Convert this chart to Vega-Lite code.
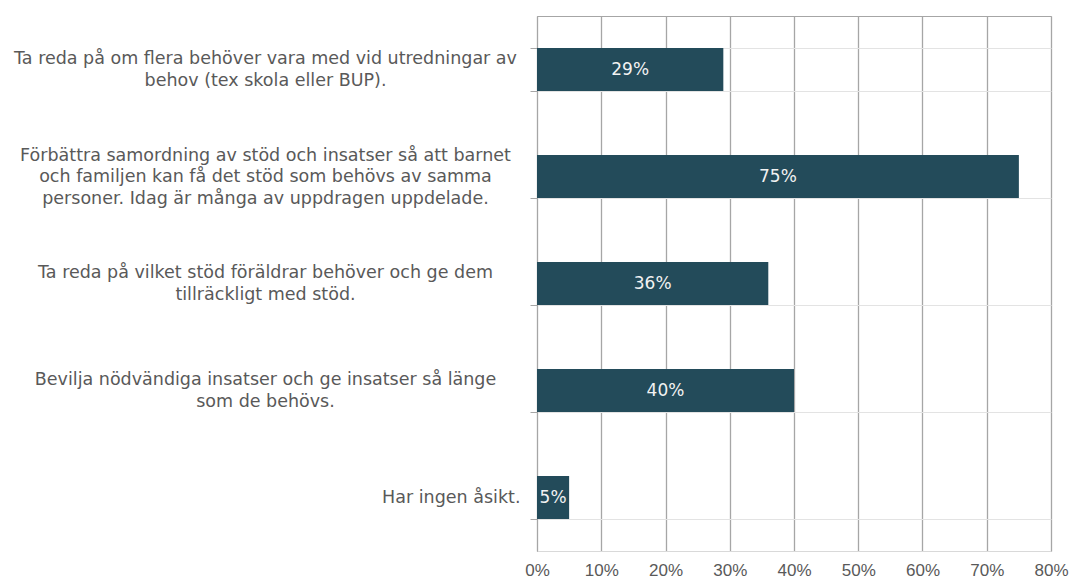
{
  "$schema": "https://vega.github.io/schema/vega-lite/v6.json",
  "autosize": "none",
  "width": 514,
  "height": 535,
  "padding": {"left": 537, "top": 16, "right": 22, "bottom": 29},
  "background": "white",
  "config": {
    "font": "Liberation Sans",
    "view": {"stroke": "#a6a6a6", "strokeWidth": 1}
  },
  "data": {
    "values": [
      {"cat": "Ta reda på om flera behöver vara med vid utredningar av\nbehov (tex skola eller BUP).", "value": 0.29},
      {"cat": "Förbättra samordning av stöd och insatser så att barnet\noch familjen kan få det stöd som behövs av samma\npersoner. Idag är många av uppdragen uppdelade.", "value": 0.75},
      {"cat": "Ta reda på vilket stöd föräldrar behöver och ge dem\ntillräckligt med stöd.", "value": 0.36},
      {"cat": "Bevilja nödvändiga insatser och ge insatser så länge\nsom de behövs.", "value": 0.40},
      {"cat": "Har ingen åsikt.", "value": 0.05}
    ]
  },
  "encoding": {
    "y": {
      "field": "cat",
      "type": "nominal",
      "sort": null,
      "scale": {"paddingInner": 0.6, "paddingOuter": 0.3},
      "axis": {
        "title": null,
        "labelExpr": "split(datum.label, '\\n')",
        "labelFont": "DejaVu Sans",
        "labelFontSize": 17.5,
        "labelColor": "#595959",
        "labelLineHeight": 21.5,
        "labelAlign": {"condition": {"test": "datum.value == 'Har ingen åsikt.'", "value": "right"}, "value": "center"},
        "labelPadding": {"condition": {"test": "datum.value == 'Har ingen åsikt.'", "value": 10}, "value": 265},
        "labelOffset": {"condition": [
          {"test": "length(split(datum.value, '\\n')) == 3", "value": -21.5},
          {"test": "length(split(datum.value, '\\n')) == 2", "value": -10.75}
        ], "value": 0},
        "labelLimit": 0,
        "tickBand": "extent",
        "tickSize": 7,
        "tickColor": "#a6a6a6",
        "grid": true,
        "gridColor": "#e3e3e3",
        "domainColor": "#a6a6a6"
      }
    }
  },
  "layer": [
    {
      "mark": {"type": "bar", "color": "#234b5a"},
      "encoding": {
        "x": {
          "field": "value",
          "type": "quantitative",
          "scale": {"domain": [0, 0.8], "nice": false},
          "axis": {
            "title": null,
            "format": ".0%",
            "values": [0, 0.1, 0.2, 0.3, 0.4, 0.5, 0.6, 0.7, 0.8],
            "labelFontSize": 17,
            "labelColor": "#595959",
            "labelFlush": false,
            "ticks": false,
            "tickSize": 0,
            "labelPadding": 11,
            "grid": true,
            "gridColor": "#a6a6a6",
            "gridWidth": 1.3,
            "domainColor": "#d9d9d9"
          }
        }
      }
    },
    {
      "mark": {"type": "text", "color": "#f2f2f2", "font": "DejaVu Sans", "fontSize": 17, "align": "center", "baseline": "middle"},
      "encoding": {
        "x": {"field": "value", "type": "quantitative", "stack": "zero", "bandPosition": 0.5},
        "text": {"field": "value", "type": "quantitative", "format": ".0%"}
      }
    }
  ]
}
